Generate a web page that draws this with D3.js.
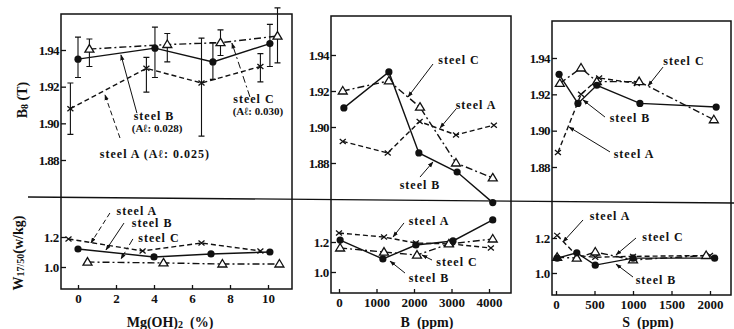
<!DOCTYPE html>
<html>
<head>
<meta charset="utf-8">
<script src="https://cdn.jsdelivr.net/npm/d3@7/dist/d3.min.js"></script>
<style>
  body { margin: 0; background: #fff; }
  svg { font-family: "Liberation Serif", "DejaVu Serif", serif; }
</style>
</head>
<body>
<div class="chart-container"></div>
<script>
// ---- tick values
const b8Ticks = [1.88, 1.90, 1.92, 1.94];
const wTicks = [1.0, 1.2];
const mgTicks = [0, 2, 4, 6, 8, 10];
const bTicks = [0, 1000, 2000, 3000, 4000];
const sTicks = [0, 500, 1000, 1500, 2000];

// ---- Mg(OH)2 panel : [Mg %, value]
const mgSteelA_B8 = [[-0.4, 1.908], [3.6, 1.930], [6.5, 1.922], [9.6, 1.931]];
const mgSteelA_B8err = [[1.894, 1.922], [1.917, 1.936], [1.893, 1.9465], [1.9226, 1.938]];
const mgSteelB_B8 = [[0, 1.935], [4.05, 1.941], [7.1, 1.9335], [10.1, 1.9435]];
const mgSteelB_B8err = [[1.925, 1.947], [1.925, 1.9525], [1.924, 1.944], [1.931, 1.954]];
const mgSteelC_B8 = [[0.6, 1.9405], [4.7, 1.943], [7.5, 1.944], [10.5, 1.9476]];
const mgSteelC_B8err = [[1.931, 1.946], [1.9335, 1.949], [1.937, 1.951], [1.933, 1.963]];
const mgSteelA_W = [[-0.5, 1.187], [3.4, 1.107], [6.5, 1.16], [9.6, 1.107]];
const mgSteelB_W = [[0, 1.12], [4, 1.067], [7, 1.087], [10.1, 1.10]];
const mgSteelC_W = [[0.5, 1.033], [4.5, 1.027], [7.6, 1.02], [10.6, 1.02]];

// ---- B panel : [B ppm, value]
const bSteelA_B8 = [[100, 1.892], [1300, 1.8856], [2150, 1.903], [3120, 1.8956], [4130, 1.901]];
const bSteelB_B8 = [[130, 1.9106], [1330, 1.9306], [2130, 1.8856], [3150, 1.875], [4100, 1.858]];
const bSteelC_B8 = [[100, 1.92], [1330, 1.9256], [2160, 1.911], [3120, 1.88], [4100, 1.8717]];
const bSteelA_W = [[0, 1.26], [1200, 1.233], [2050, 1.193], [2990, 1.187], [4050, 1.16]];
const bSteelB_W = [[30, 1.213], [1170, 1.087], [2050, 1.18], [3040, 1.207], [4100, 1.347]];
const bSteelC_W = [[30, 1.16], [1200, 1.133], [2080, 1.113], [2930, 1.187], [4100, 1.22]];

// ---- S panel : [S ppm, value]
const sSteelA_B8 = [[25, 1.888], [325, 1.92], [560, 1.929], [1050, 1.926]];
const sSteelB_B8 = [[40, 1.931], [285, 1.915], [530, 1.925], [1090, 1.915], [2080, 1.913]];
const sSteelC_B8 = [[50, 1.926], [325, 1.9345], [530, 1.927], [1080, 1.927], [2050, 1.906]];
const sSteelA_W = [[15, 1.215], [270, 1.10], [510, 1.09], [1000, 1.095], [2000, 1.10]];
const sSteelB_W = [[15, 1.085], [270, 1.115], [510, 1.045], [1000, 1.085], [2060, 1.085]];
const sSteelC_W = [[15, 1.09], [270, 1.085], [510, 1.12], [1000, 1.075], [1950, 1.10]];

// ---- labels (data coords) and leader arrows
const mgLabels = [
  { part: 'top', text: 'steel B', x: 4.0, y: 1.9042 },
  { part: 'top', text: '(Aℓ: 0.028)', x: 4.16, y: 1.8973 },
  { part: 'top', text: 'steel A  (Aℓ: 0.025)', x: 4.05, y: 1.8833 },
  { part: 'top', text: 'steel C', x: 9.26, y: 1.9135 },
  { part: 'top', text: '(Aℓ: 0.030)', x: 9.47, y: 1.9066 },
  { part: 'bot', text: 'steel A', x: 3.1, y: 1.373 },
  { part: 'bot', text: 'steel B', x: 3.9, y: 1.293 },
  { part: 'bot', text: 'steel C', x: 4.26, y: 1.193 }
];
const mgLeaders = [
  { part: 'top', s: 'B', from: [3.1, 1.9056], to: [2.26, 1.9373] },
  { part: 'top', s: 'A', from: [2.21, 1.892], to: [1.42, 1.9155] },
  { part: 'top', s: 'C', from: [9.05, 1.9144], to: [8.1, 1.9438] },
  { part: 'bot', s: 'A', from: [1.68, 1.36], to: [0.68, 1.16] },
  { part: 'bot', s: 'B', from: [2.42, 1.293], to: [1.47, 1.113] },
  { part: 'bot', s: 'C', from: [2.89, 1.187], to: [2.26, 1.053] }
];
const bLabels = [
  { part: 'top', text: 'steel C', x: 3200, y: 1.9372 },
  { part: 'top', text: 'steel A', x: 3653, y: 1.9122 },
  { part: 'top', text: 'steel B', x: 2160, y: 1.8678 },
  { part: 'bot', text: 'steel A', x: 2400, y: 1.34 },
  { part: 'bot', text: 'steel C', x: 3147, y: 1.0667 },
  { part: 'bot', text: 'steel B', x: 2400, y: 0.96 }
];
const bLeaders = [
  { part: 'top', from: [2507, 1.935], to: [1840, 1.9167] },
  { part: 'top', from: [3120, 1.91], to: [2693, 1.8994] },
  { part: 'top', from: [2160, 1.8722], to: [2507, 1.8806] },
  { part: 'bot', from: [1733, 1.327], to: [1440, 1.233] },
  { part: 'bot', from: [2480, 1.08], to: [2213, 1.113] },
  { part: 'bot', from: [1760, 0.993], to: [1360, 1.073] }
];
const sLabels = [
  { part: 'top', text: 'steel C', x: 1662, y: 1.9383 },
  { part: 'top', text: 'steel B', x: 961, y: 1.907 },
  { part: 'top', text: 'steel A', x: 1013, y: 1.8872 },
  { part: 'bot', text: 'steel A', x: 701, y: 1.326 },
  { part: 'bot', text: 'steel C', x: 1390, y: 1.206 },
  { part: 'bot', text: 'steel B', x: 1299, y: 0.96 }
];
const sLeaders = [
  { part: 'top', from: [1390, 1.935], to: [1195, 1.9246] },
  { part: 'top', from: [636, 1.9075], to: [351, 1.9169] },
  { part: 'top', from: [701, 1.8883], to: [169, 1.902] },
  { part: 'bot', from: [351, 1.303], to: [91, 1.177] },
  { part: 'bot', from: [1039, 1.2], to: [779, 1.103] },
  { part: 'bot', from: [1000, 0.977], to: [779, 1.051] }
];

const dash = { A: '5,3', B: null, C: '7,3,2,3' };

const panels = [
  {
    xDom: [0, 10], xRange: [78, 268], frame: { l: 61, r: 292, t: 14, b: 289 },
    yTop: [160, 50], yBot: [267, 237], ticks: mgTicks,
    top: { A: mgSteelA_B8, B: mgSteelB_B8, C: mgSteelC_B8 },
    bot: { A: mgSteelA_W, B: mgSteelB_W, C: mgSteelC_W },
    err: { A: [mgSteelA_B8, mgSteelA_B8err], B: [mgSteelB_B8, mgSteelB_B8err], C: [mgSteelC_B8, mgSteelC_B8err] },
    labels: mgLabels, leaders: mgLeaders
  },
  {
    xDom: [0, 4000], xRange: [339, 489], frame: { l: 331, r: 511, t: 16, b: 293 },
    yTop: [163, 55], yBot: [272, 242], ticks: bTicks,
    top: { A: bSteelA_B8, B: bSteelB_B8, C: bSteelC_B8 },
    bot: { A: bSteelA_W, B: bSteelB_W, C: bSteelC_W },
    labels: bLabels, leaders: bLeaders
  },
  {
    xDom: [0, 2000], xRange: [556, 710], frame: { l: 552, r: 731, t: 21, b: 295 },
    yTop: [167, 58], yBot: [273, 238], ticks: sTicks,
    top: { A: sSteelA_B8, B: sSteelB_B8, C: sSteelC_B8 },
    bot: { A: sSteelA_W, B: sSteelB_W, C: sSteelC_W },
    labels: sLabels, leaders: sLeaders
  }
];

const svg = d3.select('.chart-container').append('svg')
  .attr('width', 734).attr('height', 329);

svg.append('defs').append('marker')
  .attr('id', 'arrow').attr('viewBox', '0 0 10 10')
  .attr('refX', 9).attr('refY', 5)
  .attr('markerWidth', 6).attr('markerHeight', 6)
  .attr('orient', 'auto-start-reverse')
  .append('path').attr('d', 'M0,1.5L10,5L0,8.5Z').attr('fill', '#111');

// horizontal separator between B8 and W panels
svg.append('line')
  .attr('x1', 28).attr('y1', 197).attr('x2', 734).attr('y2', 203)
  .attr('stroke', '#111').attr('stroke-width', 1.4);

function drawMarker(g, s, px, py) {
  if (s === 'A') {
    g.append('path')
      .attr('d', `M${px - 3},${py - 2.5}L${px + 3},${py + 2.5}M${px - 3},${py + 2.5}L${px + 3},${py - 2.5}`)
      .attr('stroke', '#111').attr('stroke-width', 1.3);
  } else if (s === 'B') {
    g.append('circle').attr('cx', px).attr('cy', py).attr('r', 3.6).attr('fill', '#111');
  } else {
    g.append('path')
      .attr('d', `M${px},${py - 4.5}L${px + 4.5},${py + 3}L${px - 4.5},${py + 3}Z`)
      .attr('fill', '#fff').attr('stroke', '#111').attr('stroke-width', 1.3);
  }
}

panels.forEach(p => {
  const g = svg.append('g');
  const f = p.frame;
  const x = d3.scaleLinear().domain(p.xDom).range(p.xRange);
  const yT = d3.scaleLinear().domain([1.88, 1.94]).range(p.yTop);
  const yB = d3.scaleLinear().domain([1.0, 1.2]).range(p.yBot);
  const yOf = { top: yT, bot: yB };

  g.append('rect')
    .attr('x', f.l).attr('y', f.t).attr('width', f.r - f.l).attr('height', f.b - f.t)
    .attr('fill', 'none').attr('stroke', '#111').attr('stroke-width', 1.5);

  const xa = g.append('g').attr('transform', `translate(0,${f.b})`)
    .call(d3.axisBottom(x).tickValues(p.ticks).tickFormat(d => d)
      .tickSize(-4).tickSizeOuter(0).tickPadding(5));
  xa.select('.domain').remove();

  const ya = g.append('g').attr('transform', `translate(${f.l},0)`)
    .call(d3.axisLeft(yT).tickValues(b8Ticks).tickFormat(d3.format('.2f')).tickSize(-5).tickPadding(2));
  ya.select('.domain').remove();
  const yb = g.append('g').attr('transform', `translate(${f.l},0)`)
    .call(d3.axisLeft(yB).tickValues(wTicks).tickFormat(d3.format('.1f')).tickSize(-5).tickPadding(2));
  yb.select('.domain').remove();

  g.selectAll('.tick line').attr('stroke', '#111').attr('stroke-width', 1.3);
  g.selectAll('.tick text')
    .attr('fill', '#111').attr('font-size', 13).attr('font-weight', 'bold')
    .attr('font-family', '"Liberation Serif", serif');
  ya.selectAll('.tick text').attr('letter-spacing', -0.6);
  yb.selectAll('.tick text').attr('letter-spacing', -0.3);

  // error bars (Mg panel)
  if (p.err) {
    Object.entries(p.err).forEach(([s, [pts, err]]) => {
      pts.forEach((d, i) => {
        const px = x(d[0]);
        const lo = yT(err[i][0]), hi = yT(err[i][1]);
        g.append('path')
          .attr('d', `M${px},${lo}V${hi}M${px - 3},${lo}H${px + 3}M${px - 3},${hi}H${px + 3}`)
          .attr('stroke', '#111').attr('stroke-width', 1.1).attr('fill', 'none');
      });
    });
  }

  ['top', 'bot'].forEach(part => {
    const y = yOf[part];
    const line = d3.line().x(d => x(d[0])).y(d => y(d[1]));
    ['A', 'B', 'C'].forEach(s => {
      g.append('path').datum(p[part][s])
        .attr('d', line)
        .attr('fill', 'none').attr('stroke', '#111').attr('stroke-width', 1.4)
        .attr('stroke-dasharray', dash[s]);
    });
    ['A', 'C', 'B'].forEach(s => {
      p[part][s].forEach(d => drawMarker(g, s, x(d[0]), y(d[1])));
    });
  });

  p.leaders.forEach(l => {
    const y = yOf[l.part];
    g.append('line')
      .attr('x1', x(l.from[0])).attr('y1', y(l.from[1]))
      .attr('x2', x(l.to[0])).attr('y2', y(l.to[1]))
      .attr('stroke', '#111').attr('stroke-width', 1)
      .attr('stroke-dasharray', l.s ? dash[l.s] : null)
      .attr('marker-end', 'url(#arrow)');
  });

  p.labels.forEach(l => {
    const y = yOf[l.part];
    const paren = l.text.startsWith('(');
    g.append('text')
      .attr('x', x(l.x)).attr('y', y(l.y))
      .attr('text-anchor', 'middle').attr('dominant-baseline', 'central')
      .attr('font-size', paren ? 11 : 12).attr('font-weight', 'bold')
      .attr('letter-spacing', paren ? 0 : 1)
      .attr('fill', '#111')
      .text(l.text);
  });
});

// axis titles
const xTitles = [
  { x: 170, parts: [['Mg(OH)', 0], ['2', 1], ['  (%)', 0]] },
  { x: 427, parts: [['B  (ppm)', 0]] },
  { x: 648, parts: [['S  (ppm)', 0]] }
];
xTitles.forEach(t => {
  const tx = svg.append('text')
    .attr('x', t.x).attr('y', 322).attr('text-anchor', 'middle')
    .attr('dominant-baseline', 'central')
    .attr('font-size', 14).attr('font-weight', 'bold').attr('fill', '#111')
    .attr('xml:space', 'preserve');
  t.parts.forEach(([txt, sub]) => {
    tx.append('tspan').text(txt)
      .attr('font-size', sub ? 10 : 14)
      .attr('baseline-shift', sub ? '-25%' : null);
  });
});

const b8Title = svg.append('text')
  .attr('transform', 'translate(22,100) rotate(-90)')
  .attr('text-anchor', 'middle').attr('dominant-baseline', 'central')
  .attr('font-size', 14).attr('font-weight', 'bold').attr('fill', '#111');
b8Title.append('tspan').text('B');
b8Title.append('tspan').text('8').attr('font-size', 10).attr('baseline-shift', '-25%');
b8Title.append('tspan').text(' (T)');

const wTitle = svg.append('text')
  .attr('transform', 'translate(18,253) rotate(-90)')
  .attr('text-anchor', 'middle').attr('dominant-baseline', 'central')
  .attr('font-size', 14).attr('font-weight', 'bold').attr('fill', '#111');
wTitle.append('tspan').text('W');
wTitle.append('tspan').text('17/50').attr('font-size', 10).attr('baseline-shift', '-25%');
wTitle.append('tspan').text('(w/kg)');
</script>
</body>
</html>
